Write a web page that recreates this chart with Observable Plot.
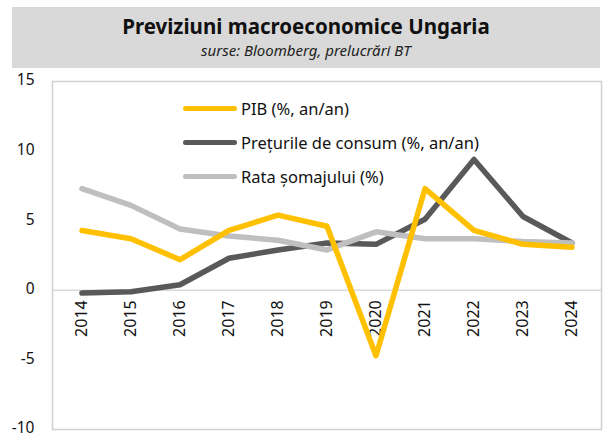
<!DOCTYPE html>
<html><head><meta charset="utf-8">
<script src="https://cdn.jsdelivr.net/npm/d3@7"></script>
<script src="https://cdn.jsdelivr.net/npm/@observablehq/plot@0.6"></script>
<style>
body{margin:0;background:#fff;font-family:"Noto Sans",sans-serif;}
#wrap{position:relative;width:608px;height:436px;}
#hdr{position:absolute;left:12px;top:7px;width:588px;height:61px;background:#d9d9d9;text-align:center;}
#hdr .t{font-weight:bold;font-size:20.5px;line-height:24px;padding-top:7px;color:#111;}
#hdr .s{font-style:italic;font-size:15px;line-height:18px;margin-top:3px;color:#222;}
#chart{position:absolute;left:0;top:68px;}
#leg{position:absolute;left:183px;top:91px;font-size:16.5px;color:#111;}
#leg .r{display:flex;align-items:center;height:34px;}
#leg .sw{width:54px;height:5px;border-radius:3px;margin-right:4px;}
</style></head>
<body><div id="wrap"><div id="hdr"><div class="t">Previziuni macroeconomice Ungaria</div><div class="s">surse: Bloomberg, prelucrări BT</div></div><div id="chart"></div><div id="leg"></div></div>
<script>
const years = ["2014","2015","2016","2017","2018","2019","2020","2021","2022","2023","2024"];
const pib = [4.3, 3.7, 2.2, 4.3, 5.4, 4.6, -4.7, 7.3, 4.3, 3.3, 3.1];
const cpi = [-0.2, -0.1, 0.4, 2.3, 2.9, 3.4, 3.3, 5.1, 9.4, 5.3, 3.4];
const somaj = [7.3, 6.1, 4.4, 3.9, 3.6, 2.9, 4.2, 3.7, 3.7, 3.5, 3.4];
const seriesNames = ["PIB (%, an/an)", "Prețurile de consum (%, an/an)", "Rata șomajului (%)"];
const colors = ["#FFC000", "#595959", "#BFBFBF"];
const yTicks = [-10, -5, 0, 5, 10, 15];

const vals = [pib, cpi, somaj];
const data = [];
const order = [1, 2, 0];
order.forEach(si => years.forEach((y, i) => data.push({year: y, v: vals[si][i], s: seriesNames[si]})));

const plot = Plot.plot({
  width: 608, height: 368,
  marginLeft: 52, marginRight: 7, marginTop: 13, marginBottom: 7,
  style: {fontFamily: "Noto Sans, sans-serif", fontSize: "16px", color: "#111"},
  x: {type: "band", domain: years, axis: null, padding: 0},
  y: {domain: [-10, 15], label: null},
  color: {domain: seriesNames, range: colors},
  marks: [
    Plot.axisY(yTicks, {tickSize: 0, tickPadding: 18, label: null, tickFormat: d => String(d), fontSize: 15.5, dy: -1}),
    Plot.frame({stroke: "#d0d0d0", strokeWidth: 1.5}),
    Plot.ruleY([0], {stroke: "#d9d9d9", strokeWidth: 1.5}),
    Plot.text(years, {x: d => d, y: 0, dy: 10, rotate: -90, textAnchor: "end", text: d => d, fontSize: 16, fill: "#111"}),
    Plot.line(data, {x: "year", y: "v", z: "s", stroke: "s", strokeWidth: 5.5, strokeLinecap: "round", strokeLinejoin: "round"})
  ]
});
document.getElementById("chart").appendChild(plot);

const leg = document.getElementById("leg");
seriesNames.forEach((n, i) => {
  const r = document.createElement("div"); r.className = "r";
  const sw = document.createElement("div"); sw.className = "sw"; sw.style.background = colors[i];
  const t = document.createElement("span"); t.textContent = n;
  r.appendChild(sw); r.appendChild(t); leg.appendChild(r);
});
</script></body></html>
